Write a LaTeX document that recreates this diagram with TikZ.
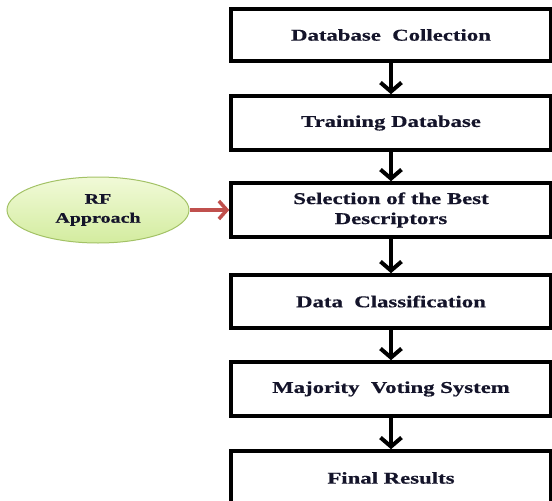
\documentclass[tikz,border=0pt]{standalone}
\usepackage{fontspec}
\newfontfamily\boxfont[FakeStretch=1.38,FakeBold=0.6]{Liberation Serif}
\usetikzlibrary{arrows.meta,shapes.geometric}
\definecolor{inkdark}{HTML}{14142A}
\definecolor{rfred}{HTML}{C0504D}
\definecolor{rfedge}{HTML}{A3C266}
\definecolor{rftop}{HTML}{F1FAD8}
\definecolor{rfbot}{HTML}{D3EC9F}
\tikzset{
  stepbox/.style={draw=black, line width=3.6pt, fill=white,
    minimum width=320pt, minimum height=52pt, inner sep=0pt,
    align=center, text=inkdark,
    font=\boxfont\bfseries\fontsize{16.5}{20}\selectfont},
  flowarrow/.style={draw=black, line width=4pt,
    -{Straight Barb[length=9pt,width=21pt,line width=4pt]}},
  rfnode/.style={ellipse, draw=rfedge, line width=1pt,
    top color=rftop, bottom color=rfbot,
    minimum width=182pt, minimum height=66pt, inner sep=0pt,
    align=center, text=inkdark,
    font=\boxfont\bfseries\fontsize{14.5}{19}\selectfont},
  rfarrow/.style={draw=rfred, line width=3.5pt,
    -{Straight Barb[length=8pt,width=18pt,line width=3.5pt]}}
}
\begin{document}
\begin{tikzpicture}[x=1pt,y=-1pt]
\useasboundingbox (0,0) rectangle (552,501);
% main column of steps
\node[stepbox, minimum height=52pt] (s1) at (391,35)  {Database\ \ Collection};
\node[stepbox, minimum height=54pt] (s2) at (391,123) {Training Database};
\node[stepbox, minimum height=54pt] (s3) at (391,210) {Selection of the Best\\Descriptors};
\node[stepbox, minimum height=53pt] (s4) at (391,301.5) {Data\ \ Classification};
\node[stepbox, minimum height=54pt] (s5) at (391,389) {Majority\ \ Voting System};
\node[stepbox, minimum height=54pt] (s6) at (391,478) {Final\ Results};
% side input
\node[rfnode] (rf) at (98,210) {RF\\Approach};
% connectors
\draw[flowarrow] (s1.south) -- (s2.north);
\draw[flowarrow] (s2.south) -- (s3.north);
\draw[flowarrow] (s3.south) -- (s4.north);
\draw[flowarrow] (s4.south) -- (s5.north);
\draw[flowarrow] (s5.south) -- (s6.north);
\draw[rfarrow] (rf.east) -- (s3.west);
\end{tikzpicture}
\end{document}
